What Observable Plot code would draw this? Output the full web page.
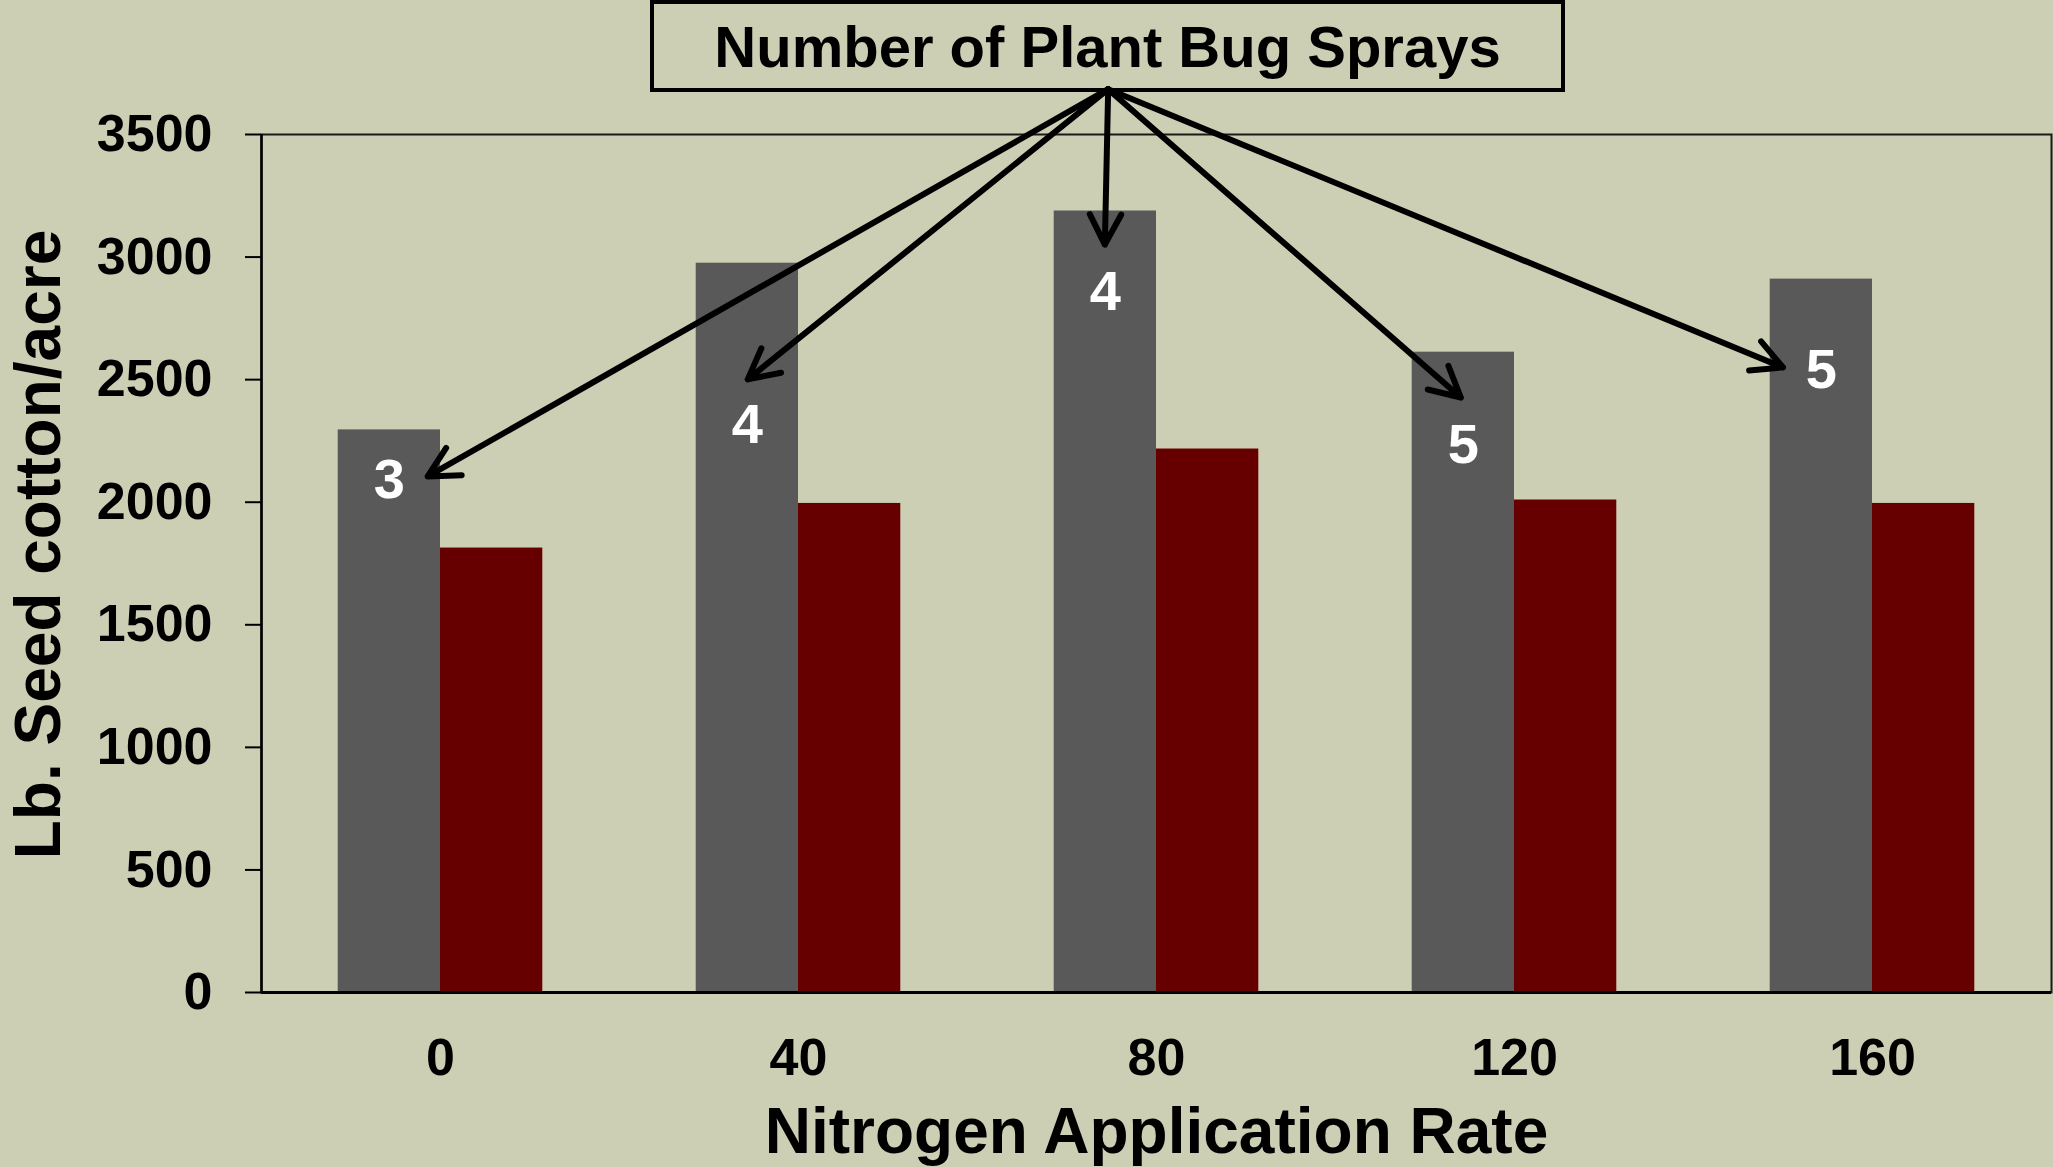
<!DOCTYPE html>
<html>
<head>
<meta charset="utf-8">
<script src="https://cdn.jsdelivr.net/npm/d3@7"></script>
<script src="https://cdn.jsdelivr.net/npm/@observablehq/plot@0.6"></script>
<style>
  html, body { margin: 0; padding: 0; background: #CDCFB4; }
  body { width: 2053px; height: 1167px; overflow: hidden; font-family: "Liberation Sans", Arial, sans-serif; font-weight: bold; }
  #wrap { position: relative; width: 2053px; height: 1167px; }
  #legendBox {
    position: absolute; left: 650px; top: 0px; width: 915px; height: 92px;
    box-sizing: border-box; border: 4.5px solid #000;
    display: flex; align-items: center; justify-content: center;
    font-size: 58px; color: #000; white-space: nowrap;
  }
  svg { position: absolute; left: 0; top: 0; }
</style>
</head>
<body>
<div id="wrap"><div id="chart"></div><div id="legendBox">Number of Plant Bug Sprays</div></div>
<script>
// Nitrogen application rates (categories)
const nitrogen = [0, 40, 80, 120, 160];
// Seed cotton yield (lb/acre) - grey series and dark red series
const greyYield = [2295, 2975, 3188, 2612, 2910];
const redYield = [1813, 1995, 2217, 2009, 1995];
// Number of plant bug sprays shown on the grey bars
const sprays = [3, 4, 4, 5, 5];
// Where each spray count sits on its bar (yield units)
const sprayLabelAt = [2089, 2314, 2856, 2235, 2540];
// Arrow annotation: common origin and tips (data units)
const arrowOrigin = {x: 74.6, y: 3685};
const arrowTipX = [-1.43, 34.33, 74.23, 114.0, 150.0];
const arrowTipY = [2105, 2501, 3051, 2427, 2550];
// Axis ticks
const yTicks = [0, 500, 1000, 1500, 2000, 2500, 3000, 3500];
const xTicks = nitrogen;

const step = 40;              // spacing between nitrogen categories
const barW = step / 3.5;      // bar width (gap width 150%)

const data = nitrogen.map((n, i) => ({n, grey: greyYield[i], red: redYield[i], sprays: sprays[i], labelAt: sprayLabelAt[i]}));
const arrows = nitrogen.map((n, i) => ({x1: arrowOrigin.x, y1: arrowOrigin.y, x2: arrowTipX[i], y2: arrowTipY[i]}));

const chart = Plot.plot({
  width: 2053,
  height: 1167,
  marginLeft: 261,
  marginRight: 2,
  marginTop: 134,
  marginBottom: 175,
  style: {background: "transparent", fontFamily: "'Liberation Sans', Arial, sans-serif", fontWeight: "bold", fontSize: "52px", color: "#000"},
  x: {domain: [-step / 2, nitrogen[nitrogen.length - 1] + step / 2]},
  y: {domain: [0, 3500]},
  marks: [
    Plot.frame({stroke: "#1a1a1a", strokeWidth: 2}),
    Plot.rect(data, {x1: d => d.n - barW, x2: d => d.n, y1: 0, y2: "grey", fill: "#595959"}),
    Plot.rect(data, {x1: d => d.n, x2: d => d.n + barW, y1: 0, y2: "red", fill: "#660000"}),
    Plot.ruleY([0], {stroke: "#000", strokeWidth: 3}),
    Plot.ruleX([-step / 2], {stroke: "#000", strokeWidth: 2.5}),
    Plot.axisY({ticks: yTicks, tickSize: 16, tickPadding: 33, tickFormat: d => String(d), label: null, fontSize: 52, fontWeight: "bold", stroke: "#000", strokeWidth: 2}),
    Plot.axisX({ticks: xTicks, tickSize: 0, tickPadding: 46, tickFormat: d => String(d), label: null, fontSize: 52, fontWeight: "bold"}),
    Plot.text(data, {x: d => d.n - barW / 2, y: "labelAt", text: d => String(d.sprays), fill: "#fff", fontSize: 56, fontWeight: "bold"}),
    Plot.arrow(arrows, {x1: "x1", y1: "y1", x2: "x2", y2: "y2", stroke: "#000", strokeWidth: 6, headLength: 8.5, headAngle: 55, strokeLinecap: "round", strokeLinejoin: "round"}),
    Plot.text(["Nitrogen Application Rate"], {frameAnchor: "bottom", textAnchor: "middle", dy: 160, lineAnchor: "bottom", fontSize: 64, fontWeight: "bold", fill: "#000"}),
    Plot.text(["Lb. Seed cotton/acre"], {frameAnchor: "left", textAnchor: "middle", dx: -222, dy: -19, rotate: -90, fontSize: 64, fontWeight: "bold", fill: "#000"})
  ]
});
document.getElementById("chart").appendChild(chart);
</script>
</body>
</html>
